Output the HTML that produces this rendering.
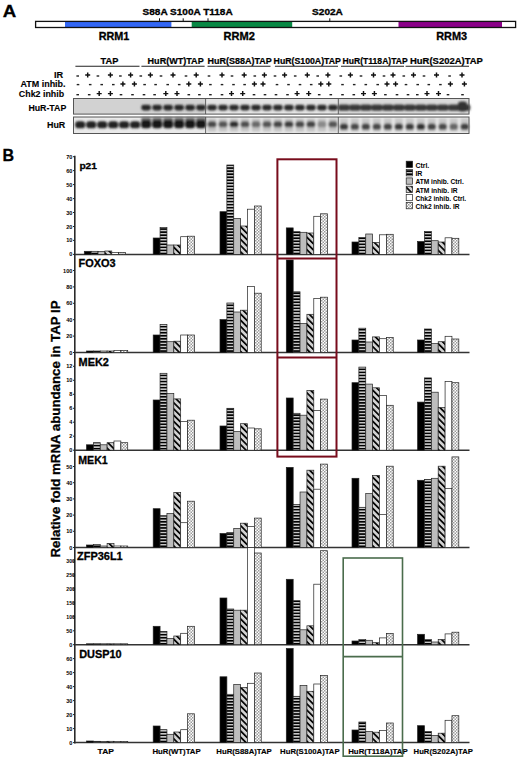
<!DOCTYPE html><html><head><meta charset="utf-8"><style>html,body{margin:0;padding:0;background:#fff;}svg{display:block;font-family:"Liberation Sans", sans-serif;}</style></head><body>
<svg width="520" height="761" viewBox="0 0 520 761">
<defs>
<pattern id="hs" patternUnits="userSpaceOnUse" x="0" y="0.3" width="4" height="3.05"><rect width="4" height="3.05" fill="#000"/><rect y="0.9" width="4" height="1.25" fill="#f2f2f2"/></pattern>
<pattern id="dg" patternUnits="userSpaceOnUse" width="4.4" height="4.4" patternTransform="rotate(-45)"><rect width="4.4" height="4.4" fill="#d2d2d2"/><rect width="1.7" height="4.4" fill="#000"/></pattern>
<pattern id="dt" patternUnits="userSpaceOnUse" width="3" height="3"><rect width="3" height="3" fill="#fff"/><rect width="1.5" height="1.5" fill="#9a9a9a"/><rect x="1.5" y="1.5" width="1.5" height="1.5" fill="#9a9a9a"/></pattern>
<filter id="bl" x="-5%" y="-20%" width="110%" height="140%"><feGaussianBlur stdDeviation="0.8"/></filter>
</defs>
<rect width="520" height="761" fill="#fff"/>
<text x="2.7" y="16.8" font-size="17.2" font-weight="bold" textLength="13.5" lengthAdjust="spacingAndGlyphs" stroke="#000" stroke-width="0.3" >A</text>
<rect x="35.6" y="21.4" width="480" height="6.1" fill="#fff"/>
<rect x="65" y="21.4" width="106.4" height="6.1" fill="#3266f4"/>
<rect x="191.7" y="21.4" width="100.5" height="6.1" fill="#088844"/>
<rect x="398.5" y="21.4" width="103.5" height="6.1" fill="#8a0088"/>
<rect x="35.6" y="21.4" width="480" height="6.1" fill="none" stroke="#111" stroke-width="1.3"/>
<line x1="159.5" y1="18.3" x2="159.5" y2="21.4" stroke="#111" stroke-width="1"/>
<line x1="183.2" y1="18.3" x2="183.2" y2="21.4" stroke="#111" stroke-width="1"/>
<line x1="208" y1="18.3" x2="208" y2="21.4" stroke="#111" stroke-width="1"/>
<line x1="329.8" y1="18.3" x2="329.8" y2="21.4" stroke="#111" stroke-width="1"/>
<text x="142.6" y="15.1" font-size="8.7" font-weight="bold" textLength="90.1" lengthAdjust="spacingAndGlyphs" stroke="#000" stroke-width="0.3" >S88A S100A T118A</text>
<text x="312.1" y="15.0" font-size="8.7" font-weight="bold" textLength="30.8" lengthAdjust="spacingAndGlyphs" stroke="#000" stroke-width="0.3" >S202A</text>
<text x="98.7" y="39.6" font-size="10.3" font-weight="bold" textLength="30.6" lengthAdjust="spacingAndGlyphs" stroke="#000" stroke-width="0.3" >RRM1</text>
<text x="223.6" y="39.6" font-size="10.3" font-weight="bold" textLength="31.3" lengthAdjust="spacingAndGlyphs" stroke="#000" stroke-width="0.3" >RRM2</text>
<text x="436.2" y="39.6" font-size="10.3" font-weight="bold" textLength="30.9" lengthAdjust="spacingAndGlyphs" stroke="#000" stroke-width="0.3" >RRM3</text>
<text x="100.6" y="64.2" font-size="8.4" font-weight="bold" textLength="17.8" lengthAdjust="spacingAndGlyphs" stroke="#000" stroke-width="0.2" >TAP</text>
<text x="147.6" y="64.2" font-size="8.4" font-weight="bold" textLength="56.1" lengthAdjust="spacingAndGlyphs" stroke="#000" stroke-width="0.2" >HuR(WT)TAP</text>
<text x="207.6" y="64.2" font-size="8.4" font-weight="bold" textLength="64.2" lengthAdjust="spacingAndGlyphs" stroke="#000" stroke-width="0.2" >HuR(S88A)TAP</text>
<text x="273.6" y="64.2" font-size="8.4" font-weight="bold" textLength="67.3" lengthAdjust="spacingAndGlyphs" stroke="#000" stroke-width="0.2" >HuR(S100A)TAP</text>
<text x="342.6" y="64.2" font-size="8.4" font-weight="bold" textLength="65.1" lengthAdjust="spacingAndGlyphs" stroke="#000" stroke-width="0.2" >HuR(T118A)TAP</text>
<text x="410.0" y="64.2" font-size="8.4" font-weight="bold" textLength="72.9" lengthAdjust="spacingAndGlyphs" stroke="#000" stroke-width="0.2" >HuR(S202A)TAP</text>
<line x1="75.4" y1="66.2" x2="139.5" y2="66.2" stroke="#222" stroke-width="1.1"/>
<line x1="141.4" y1="66.2" x2="204.6" y2="66.2" stroke="#222" stroke-width="1.1"/>
<line x1="207.5" y1="66.2" x2="270.5" y2="66.2" stroke="#222" stroke-width="1.1"/>
<line x1="274.9" y1="66.2" x2="338" y2="66.2" stroke="#222" stroke-width="1.1"/>
<line x1="341" y1="66.2" x2="404" y2="66.2" stroke="#222" stroke-width="1.1"/>
<line x1="405.6" y1="66.2" x2="469" y2="66.2" stroke="#222" stroke-width="1.1"/>
<text x="54.0" y="78.4" font-size="8.6" font-weight="bold" textLength="9.2" lengthAdjust="spacingAndGlyphs" stroke="#000" stroke-width="0.1" >IR</text>
<text x="20.4" y="87.3" font-size="8.6" font-weight="bold" textLength="45.2" lengthAdjust="spacingAndGlyphs" stroke="#000" stroke-width="0.1" >ATM inhib.</text>
<text x="18.8" y="97.2" font-size="8.6" font-weight="bold" textLength="45.4" lengthAdjust="spacingAndGlyphs" stroke="#000" stroke-width="0.1" >Chk2 inhib</text>
<text x="28.4" y="111.1" font-size="8.6" font-weight="bold" textLength="37.9" lengthAdjust="spacingAndGlyphs" stroke="#000" stroke-width="0.1" >HuR-TAP</text>
<text x="47.0" y="127.9" font-size="8.6" font-weight="bold" textLength="18.3" lengthAdjust="spacingAndGlyphs" stroke="#000" stroke-width="0.1" >HuR</text>
<path d="M76.4 76.0h2.6" stroke="#222" stroke-width="1.4"/>
<path d="M85.2 75.0h5M87.7 72.5v5" stroke="#111" stroke-width="1.45"/>
<path d="M96.6 76.0h2.6" stroke="#222" stroke-width="1.4"/>
<path d="M107.9 75.0h5M110.4 72.5v5" stroke="#111" stroke-width="1.45"/>
<path d="M119.1 76.0h2.6" stroke="#222" stroke-width="1.4"/>
<path d="M128.1 75.0h5M130.6 72.5v5" stroke="#111" stroke-width="1.45"/>
<path d="M139.5 76.0h2.6" stroke="#222" stroke-width="1.4"/>
<path d="M147.9 75.0h5M150.4 72.5v5" stroke="#111" stroke-width="1.45"/>
<path d="M159.7 76.0h2.6" stroke="#222" stroke-width="1.4"/>
<path d="M170.5 75.0h5M173.0 72.5v5" stroke="#111" stroke-width="1.45"/>
<path d="M184.7 76.0h2.6" stroke="#222" stroke-width="1.4"/>
<path d="M193.7 75.0h5M196.2 72.5v5" stroke="#111" stroke-width="1.45"/>
<path d="M207.7 76.0h2.6" stroke="#222" stroke-width="1.4"/>
<path d="M219.5 75.0h5M222.0 72.5v5" stroke="#111" stroke-width="1.45"/>
<path d="M230.7 76.0h2.6" stroke="#222" stroke-width="1.4"/>
<path d="M241.7 75.0h5M244.2 72.5v5" stroke="#111" stroke-width="1.45"/>
<path d="M253.5 76.0h2.6" stroke="#222" stroke-width="1.4"/>
<path d="M261.9 75.0h5M264.4 72.5v5" stroke="#111" stroke-width="1.45"/>
<path d="M273.7 76.0h2.6" stroke="#222" stroke-width="1.4"/>
<path d="M282.1 75.0h5M284.6 72.5v5" stroke="#111" stroke-width="1.45"/>
<path d="M293.9 76.0h2.6" stroke="#222" stroke-width="1.4"/>
<path d="M304.8 75.0h5M307.3 72.5v5" stroke="#111" stroke-width="1.45"/>
<path d="M316.4 76.0h2.6" stroke="#222" stroke-width="1.4"/>
<path d="M325.4 75.0h5M327.9 72.5v5" stroke="#111" stroke-width="1.45"/>
<path d="M339.5 76.0h2.6" stroke="#222" stroke-width="1.4"/>
<path d="M347.9 75.0h5M350.4 72.5v5" stroke="#111" stroke-width="1.45"/>
<path d="M359.7 76.0h2.6" stroke="#222" stroke-width="1.4"/>
<path d="M371.0 75.0h5M373.5 72.5v5" stroke="#111" stroke-width="1.45"/>
<path d="M382.7 76.0h2.6" stroke="#222" stroke-width="1.4"/>
<path d="M390.5 75.0h5M393.0 72.5v5" stroke="#111" stroke-width="1.45"/>
<path d="M402.5 76.0h2.6" stroke="#222" stroke-width="1.4"/>
<path d="M411.0 75.0h5M413.5 72.5v5" stroke="#111" stroke-width="1.45"/>
<path d="M422.7 76.0h2.6" stroke="#222" stroke-width="1.4"/>
<path d="M434.0 75.0h5M436.5 72.5v5" stroke="#111" stroke-width="1.45"/>
<path d="M448.3 76.0h2.6" stroke="#222" stroke-width="1.4"/>
<path d="M459.5 75.0h5M462.0 72.5v5" stroke="#111" stroke-width="1.45"/>
<path d="M76.7 84.6h2.6" stroke="#222" stroke-width="1.4"/>
<path d="M88.9 84.6h2.6" stroke="#222" stroke-width="1.4"/>
<path d="M100.4 84.6h2.6" stroke="#222" stroke-width="1.4"/>
<path d="M112.0 84.6h2.6" stroke="#222" stroke-width="1.4"/>
<path d="M120.4 83.9h5M122.9 81.4v5" stroke="#111" stroke-width="1.45"/>
<path d="M131.9 83.9h5M134.4 81.4v5" stroke="#111" stroke-width="1.45"/>
<path d="M143.3 84.6h2.6" stroke="#222" stroke-width="1.4"/>
<path d="M154.3 84.6h2.6" stroke="#222" stroke-width="1.4"/>
<path d="M166.4 84.6h2.6" stroke="#222" stroke-width="1.4"/>
<path d="M177.9 84.6h2.6" stroke="#222" stroke-width="1.4"/>
<path d="M186.3 83.9h5M188.8 81.4v5" stroke="#111" stroke-width="1.45"/>
<path d="M197.9 83.9h5M200.4 81.4v5" stroke="#111" stroke-width="1.45"/>
<path d="M209.1 84.6h2.6" stroke="#222" stroke-width="1.4"/>
<path d="M220.7 84.6h2.6" stroke="#222" stroke-width="1.4"/>
<path d="M232.2 84.6h2.6" stroke="#222" stroke-width="1.4"/>
<path d="M243.3 84.6h2.6" stroke="#222" stroke-width="1.4"/>
<path d="M251.9 83.9h5M254.4 81.4v5" stroke="#111" stroke-width="1.45"/>
<path d="M260.5 83.9h5M263.0 81.4v5" stroke="#111" stroke-width="1.45"/>
<path d="M275.7 84.6h2.6" stroke="#222" stroke-width="1.4"/>
<path d="M287.2 84.6h2.6" stroke="#222" stroke-width="1.4"/>
<path d="M298.7 84.6h2.6" stroke="#222" stroke-width="1.4"/>
<path d="M309.9 84.6h2.6" stroke="#222" stroke-width="1.4"/>
<path d="M318.3 83.9h5M320.8 81.4v5" stroke="#111" stroke-width="1.45"/>
<path d="M326.3 83.9h5M328.8 81.4v5" stroke="#111" stroke-width="1.45"/>
<path d="M341.2 84.6h2.6" stroke="#222" stroke-width="1.4"/>
<path d="M352.9 84.6h2.6" stroke="#222" stroke-width="1.4"/>
<path d="M364.5 84.6h2.6" stroke="#222" stroke-width="1.4"/>
<path d="M376.4 84.6h2.6" stroke="#222" stroke-width="1.4"/>
<path d="M384.5 83.9h5M387.0 81.4v5" stroke="#111" stroke-width="1.45"/>
<path d="M393.1 83.9h5M395.6 81.4v5" stroke="#111" stroke-width="1.45"/>
<path d="M404.7 84.6h2.6" stroke="#222" stroke-width="1.4"/>
<path d="M416.4 84.6h2.6" stroke="#222" stroke-width="1.4"/>
<path d="M427.5 84.6h2.6" stroke="#222" stroke-width="1.4"/>
<path d="M439.1 84.6h2.6" stroke="#222" stroke-width="1.4"/>
<path d="M447.9 83.9h5M450.4 81.4v5" stroke="#111" stroke-width="1.45"/>
<path d="M461.9 83.9h5M464.4 81.4v5" stroke="#111" stroke-width="1.45"/>
<path d="M76.4 94.7h2.6" stroke="#222" stroke-width="1.4"/>
<path d="M87.9 94.7h2.6" stroke="#222" stroke-width="1.4"/>
<path d="M96.7 93.6h5M99.2 91.1v5" stroke="#111" stroke-width="1.45"/>
<path d="M107.9 93.6h5M110.4 91.1v5" stroke="#111" stroke-width="1.45"/>
<path d="M119.7 94.7h2.6" stroke="#222" stroke-width="1.4"/>
<path d="M131.2 94.7h2.6" stroke="#222" stroke-width="1.4"/>
<path d="M142.7 94.7h2.6" stroke="#222" stroke-width="1.4"/>
<path d="M153.3 94.7h2.6" stroke="#222" stroke-width="1.4"/>
<path d="M163.3 93.6h5M165.8 91.1v5" stroke="#111" stroke-width="1.45"/>
<path d="M174.5 93.6h5M177.0 91.1v5" stroke="#111" stroke-width="1.45"/>
<path d="M187.5 94.7h2.6" stroke="#222" stroke-width="1.4"/>
<path d="M198.1 94.7h2.6" stroke="#222" stroke-width="1.4"/>
<path d="M209.1 94.7h2.6" stroke="#222" stroke-width="1.4"/>
<path d="M220.7 94.7h2.6" stroke="#222" stroke-width="1.4"/>
<path d="M229.0 93.6h5M231.5 91.1v5" stroke="#111" stroke-width="1.45"/>
<path d="M240.2 93.6h5M242.7 91.1v5" stroke="#111" stroke-width="1.45"/>
<path d="M252.7 94.7h2.6" stroke="#222" stroke-width="1.4"/>
<path d="M263.7 94.7h2.6" stroke="#222" stroke-width="1.4"/>
<path d="M274.7 94.7h2.6" stroke="#222" stroke-width="1.4"/>
<path d="M286.2 94.7h2.6" stroke="#222" stroke-width="1.4"/>
<path d="M294.6 93.6h5M297.1 91.1v5" stroke="#111" stroke-width="1.45"/>
<path d="M306.2 93.6h5M308.7 91.1v5" stroke="#111" stroke-width="1.45"/>
<path d="M317.9 94.7h2.6" stroke="#222" stroke-width="1.4"/>
<path d="M329.5 94.7h2.6" stroke="#222" stroke-width="1.4"/>
<path d="M341.2 94.7h2.6" stroke="#222" stroke-width="1.4"/>
<path d="M352.5 94.7h2.6" stroke="#222" stroke-width="1.4"/>
<path d="M361.0 93.6h5M363.5 91.1v5" stroke="#111" stroke-width="1.45"/>
<path d="M371.9 93.6h5M374.4 91.1v5" stroke="#111" stroke-width="1.45"/>
<path d="M384.1 94.7h2.6" stroke="#222" stroke-width="1.4"/>
<path d="M395.7 94.7h2.6" stroke="#222" stroke-width="1.4"/>
<path d="M406.7 94.7h2.6" stroke="#222" stroke-width="1.4"/>
<path d="M416.0 94.7h2.6" stroke="#222" stroke-width="1.4"/>
<path d="M424.5 93.6h5M427.0 91.1v5" stroke="#111" stroke-width="1.45"/>
<path d="M436.0 93.6h5M438.5 91.1v5" stroke="#111" stroke-width="1.45"/>
<path d="M446.7 94.7h2.6" stroke="#222" stroke-width="1.4"/>
<path d="M461.2 94.7h2.6" stroke="#222" stroke-width="1.4"/>
<rect x="73.5" y="98.5" width="395.5" height="15.6" fill="#d2d2d2"/>
<rect x="206" y="98.5" width="132.3" height="15.6" fill="#e3e3e3"/>
<rect x="338.3" y="98.5" width="130.7" height="15.6" fill="#dadada"/>
<rect x="73.5" y="117" width="395.5" height="16.5" fill="#e9e9e9"/>
<g filter="url(#bl)">
<rect x="141.3" y="104.8" width="9.6" height="5.6" rx="2.4" fill="#262626"/>
<rect x="152.3" y="104.8" width="9.6" height="5.6" rx="2.4" fill="#262626"/>
<rect x="163.3" y="104.8" width="9.6" height="5.6" rx="2.4" fill="#262626"/>
<rect x="174.3" y="104.8" width="9.6" height="5.6" rx="2.4" fill="#262626"/>
<rect x="185.3" y="104.8" width="9.6" height="5.6" rx="2.4" fill="#262626"/>
<rect x="196.2" y="104.8" width="9.6" height="5.6" rx="2.4" fill="#262626"/>
<rect x="207.2" y="104.8" width="9.6" height="5.6" rx="2.4" fill="#2a2a2a"/>
<rect x="218.2" y="104.8" width="9.6" height="5.6" rx="2.4" fill="#2a2a2a"/>
<rect x="229.2" y="104.8" width="9.6" height="5.6" rx="2.4" fill="#2a2a2a"/>
<rect x="240.2" y="104.8" width="9.6" height="5.6" rx="2.4" fill="#2a2a2a"/>
<rect x="251.2" y="104.8" width="9.6" height="5.6" rx="2.4" fill="#2a2a2a"/>
<rect x="262.2" y="104.8" width="9.6" height="5.6" rx="2.4" fill="#2a2a2a"/>
<rect x="273.1" y="104.8" width="9.6" height="5.6" rx="2.4" fill="#2a2a2a"/>
<rect x="284.1" y="104.8" width="9.6" height="5.6" rx="2.4" fill="#2a2a2a"/>
<rect x="295.1" y="104.8" width="9.6" height="5.6" rx="2.4" fill="#2a2a2a"/>
<rect x="306.1" y="104.8" width="9.6" height="5.6" rx="2.4" fill="#2a2a2a"/>
<rect x="317.1" y="104.8" width="9.6" height="5.6" rx="2.4" fill="#2a2a2a"/>
<rect x="328.1" y="104.8" width="9.6" height="5.6" rx="2.4" fill="#2a2a2a"/>
<rect x="338.3" y="104.4" width="11.2" height="6.4" rx="2" fill="#383838"/>
<rect x="349.2" y="104.4" width="11.2" height="6.4" rx="2" fill="#383838"/>
<rect x="360.2" y="104.4" width="11.2" height="6.4" rx="2" fill="#383838"/>
<rect x="371.2" y="104.4" width="11.2" height="6.4" rx="2" fill="#383838"/>
<rect x="382.2" y="104.4" width="11.2" height="6.4" rx="2" fill="#383838"/>
<rect x="393.2" y="104.4" width="11.2" height="6.4" rx="2" fill="#383838"/>
<rect x="404.2" y="104.4" width="11.2" height="6.4" rx="2" fill="#383838"/>
<rect x="415.2" y="104.4" width="11.2" height="6.4" rx="2" fill="#383838"/>
<rect x="426.1" y="104.4" width="11.2" height="6.4" rx="2" fill="#383838"/>
<rect x="437.1" y="104.4" width="11.2" height="6.4" rx="2" fill="#383838"/>
<rect x="448.1" y="104.4" width="11.2" height="6.4" rx="2" fill="#383838"/>
<rect x="459.1" y="104.4" width="11.2" height="6.4" rx="2" fill="#383838"/>
<rect x="458" y="101.5" width="9" height="10" rx="3" fill="#333"/>
<rect x="75.2" y="121.3" width="10.0" height="6.9" rx="3" fill="#202020"/>
<rect x="86.2" y="121.3" width="10.0" height="6.9" rx="3" fill="#202020"/>
<rect x="97.2" y="121.3" width="10.0" height="6.9" rx="3" fill="#202020"/>
<rect x="108.2" y="121.3" width="10.0" height="6.9" rx="3" fill="#202020"/>
<rect x="119.1" y="121.3" width="10.0" height="6.9" rx="3" fill="#202020"/>
<rect x="130.1" y="121.3" width="10.0" height="6.9" rx="3" fill="#202020"/>
<rect x="141.1" y="117.6" width="10.0" height="4" rx="1.5" fill="#6a6a6a"/>
<rect x="141.1" y="120.0" width="10.0" height="8.2" rx="3" fill="#151515"/>
<rect x="152.1" y="117.6" width="10.0" height="4" rx="1.5" fill="#6a6a6a"/>
<rect x="152.1" y="120.0" width="10.0" height="8.2" rx="3" fill="#151515"/>
<rect x="163.1" y="117.6" width="10.0" height="4" rx="1.5" fill="#6a6a6a"/>
<rect x="163.1" y="120.0" width="10.0" height="8.2" rx="3" fill="#151515"/>
<rect x="174.1" y="117.6" width="10.0" height="4" rx="1.5" fill="#6a6a6a"/>
<rect x="174.1" y="120.0" width="10.0" height="8.2" rx="3" fill="#151515"/>
<rect x="185.1" y="117.6" width="10.0" height="4" rx="1.5" fill="#6a6a6a"/>
<rect x="185.1" y="120.0" width="10.0" height="8.2" rx="3" fill="#151515"/>
<rect x="196.0" y="117.6" width="10.0" height="4" rx="1.5" fill="#6a6a6a"/>
<rect x="196.0" y="120.0" width="10.0" height="8.2" rx="3" fill="#151515"/>
<rect x="207.7" y="118.5" width="8.6" height="13" fill="#c4c4c4"/>
<rect x="207.7" y="121.3" width="8.6" height="6.0" rx="2.6" fill="#4a4a4a"/>
<rect x="218.7" y="118.5" width="8.6" height="13" fill="#c4c4c4"/>
<rect x="218.7" y="121.3" width="8.6" height="6.0" rx="2.6" fill="#555"/>
<rect x="229.7" y="118.5" width="8.6" height="13" fill="#c4c4c4"/>
<rect x="229.7" y="121.3" width="8.6" height="6.0" rx="2.6" fill="#2e2e2e"/>
<rect x="240.7" y="118.5" width="8.6" height="13" fill="#c4c4c4"/>
<rect x="240.7" y="121.3" width="8.6" height="6.0" rx="2.6" fill="#505050"/>
<rect x="251.7" y="118.5" width="8.6" height="13" fill="#c4c4c4"/>
<rect x="251.7" y="121.3" width="8.6" height="6.0" rx="2.6" fill="#6a6a6a"/>
<rect x="262.7" y="118.5" width="8.6" height="13" fill="#c4c4c4"/>
<rect x="262.7" y="121.3" width="8.6" height="6.0" rx="2.6" fill="#555"/>
<rect x="273.6" y="118.5" width="8.6" height="13" fill="#c4c4c4"/>
<rect x="273.6" y="121.3" width="8.6" height="6.0" rx="2.6" fill="#474747"/>
<rect x="284.6" y="118.5" width="8.6" height="13" fill="#c4c4c4"/>
<rect x="284.6" y="121.3" width="8.6" height="6.0" rx="2.6" fill="#3e3e3e"/>
<rect x="295.6" y="118.5" width="8.6" height="13" fill="#c4c4c4"/>
<rect x="295.6" y="121.3" width="8.6" height="6.0" rx="2.6" fill="#4a4a4a"/>
<rect x="306.6" y="118.5" width="8.6" height="13" fill="#c4c4c4"/>
<rect x="306.6" y="121.3" width="8.6" height="6.0" rx="2.6" fill="#444"/>
<rect x="317.6" y="118.5" width="8.6" height="13" fill="#c4c4c4"/>
<rect x="317.6" y="121.3" width="8.6" height="6.0" rx="2.6" fill="#8a8a8a"/>
<rect x="328.6" y="118.5" width="8.6" height="13" fill="#c4c4c4"/>
<rect x="328.6" y="121.3" width="8.6" height="6.0" rx="2.6" fill="#555"/>
<rect x="339.9" y="118.5" width="8.0" height="13" fill="#c8c8c8"/>
<rect x="339.9" y="123.4" width="8.0" height="6.4" rx="2.6" fill="#3a3a3a"/>
<rect x="350.8" y="118.5" width="8.0" height="13" fill="#c8c8c8"/>
<rect x="350.8" y="123.4" width="8.0" height="6.4" rx="2.6" fill="#4a4a4a"/>
<rect x="361.8" y="118.5" width="8.0" height="13" fill="#c8c8c8"/>
<rect x="361.8" y="123.4" width="8.0" height="6.4" rx="2.6" fill="#444"/>
<rect x="372.8" y="118.5" width="8.0" height="13" fill="#c8c8c8"/>
<rect x="372.8" y="123.4" width="8.0" height="6.4" rx="2.6" fill="#4a4a4a"/>
<rect x="383.8" y="118.5" width="8.0" height="13" fill="#c8c8c8"/>
<rect x="383.8" y="123.4" width="8.0" height="6.4" rx="2.6" fill="#444"/>
<rect x="394.8" y="118.5" width="8.0" height="13" fill="#c8c8c8"/>
<rect x="394.8" y="123.4" width="8.0" height="6.4" rx="2.6" fill="#3a3a3a"/>
<rect x="405.8" y="118.5" width="8.0" height="13" fill="#c8c8c8"/>
<rect x="405.8" y="123.4" width="8.0" height="6.4" rx="2.6" fill="#3a3a3a"/>
<rect x="416.8" y="118.5" width="8.0" height="13" fill="#c8c8c8"/>
<rect x="416.8" y="123.4" width="8.0" height="6.4" rx="2.6" fill="#333"/>
<rect x="427.7" y="118.5" width="8.0" height="13" fill="#c8c8c8"/>
<rect x="427.7" y="123.4" width="8.0" height="6.4" rx="2.6" fill="#444"/>
<rect x="438.7" y="118.5" width="8.0" height="13" fill="#c8c8c8"/>
<rect x="438.7" y="123.4" width="8.0" height="6.4" rx="2.6" fill="#4a4a4a"/>
<rect x="449.7" y="118.5" width="8.0" height="13" fill="#c8c8c8"/>
<rect x="449.7" y="123.4" width="8.0" height="6.4" rx="2.6" fill="#666"/>
<rect x="460.7" y="118.5" width="8.0" height="13" fill="#c8c8c8"/>
<rect x="460.7" y="123.4" width="8.0" height="6.4" rx="2.6" fill="#404040"/>
</g>
<rect x="73.5" y="98.5" width="395.5" height="15.6" fill="none" stroke="#555" stroke-width="1"/>
<rect x="73.5" y="117" width="395.5" height="16.5" fill="none" stroke="#555" stroke-width="1"/>
<line x1="205.6" y1="98.5" x2="205.6" y2="114.1" stroke="#555" stroke-width="0.9"/>
<line x1="205.6" y1="117" x2="205.6" y2="133.5" stroke="#555" stroke-width="0.9"/>
<line x1="338.3" y1="98.5" x2="338.3" y2="114.1" stroke="#555" stroke-width="0.9"/>
<line x1="338.3" y1="117" x2="338.3" y2="133.5" stroke="#555" stroke-width="0.9"/>
<text x="2.5" y="161.4" font-size="17.2" font-weight="bold" textLength="11.6" lengthAdjust="spacingAndGlyphs" stroke="#000" stroke-width="0.3" >B</text>
<line x1="74.8" y1="155.8" x2="74.8" y2="743.5" stroke="#2a2a2a" stroke-width="1.6"/>
<line x1="74.8" y1="254.4" x2="469.5" y2="254.4" stroke="#333" stroke-width="1.5"/>
<line x1="73.0" y1="254.4" x2="74.8" y2="254.4" stroke="#222" stroke-width="1"/>
<text x="72.4" y="256.4" font-size="5.6" text-anchor="end" font-weight="bold" >0</text>
<line x1="73.0" y1="240.4" x2="74.8" y2="240.4" stroke="#222" stroke-width="1"/>
<text x="72.4" y="242.4" font-size="5.6" text-anchor="end" font-weight="bold" >10</text>
<line x1="73.0" y1="226.5" x2="74.8" y2="226.5" stroke="#222" stroke-width="1"/>
<text x="72.4" y="228.5" font-size="5.6" text-anchor="end" font-weight="bold" >20</text>
<line x1="73.0" y1="212.5" x2="74.8" y2="212.5" stroke="#222" stroke-width="1"/>
<text x="72.4" y="214.5" font-size="5.6" text-anchor="end" font-weight="bold" >30</text>
<line x1="73.0" y1="198.6" x2="74.8" y2="198.6" stroke="#222" stroke-width="1"/>
<text x="72.4" y="200.6" font-size="5.6" text-anchor="end" font-weight="bold" >40</text>
<line x1="73.0" y1="184.6" x2="74.8" y2="184.6" stroke="#222" stroke-width="1"/>
<text x="72.4" y="186.6" font-size="5.6" text-anchor="end" font-weight="bold" >50</text>
<line x1="73.0" y1="170.6" x2="74.8" y2="170.6" stroke="#222" stroke-width="1"/>
<text x="72.4" y="172.6" font-size="5.6" text-anchor="end" font-weight="bold" >60</text>
<line x1="73.0" y1="156.7" x2="74.8" y2="156.7" stroke="#222" stroke-width="1"/>
<text x="72.4" y="158.7" font-size="5.6" text-anchor="end" font-weight="bold" >70</text>
<text x="79.4" y="168.9" font-size="9.6" font-weight="bold" textLength="17.6" lengthAdjust="spacingAndGlyphs" stroke="#000" stroke-width="0.3" >p21</text>
<rect x="84.30" y="251.3" width="6.87" height="3.1" fill="#000" stroke="#222" stroke-width="0.7"/>
<rect x="91.17" y="251.3" width="6.87" height="3.1" fill="url(#hs)" stroke="#222" stroke-width="0.7"/>
<rect x="98.04" y="251.5" width="6.87" height="2.9" fill="#bdbdbd" stroke="#222" stroke-width="0.7"/>
<rect x="104.91" y="251.0" width="6.87" height="3.4" fill="url(#dg)" stroke="#222" stroke-width="0.7"/>
<rect x="111.78" y="252.5" width="6.87" height="1.9" fill="#fff" stroke="#222" stroke-width="0.7"/>
<rect x="118.65" y="252.5" width="6.87" height="1.9" fill="url(#dt)" stroke="#222" stroke-width="0.7"/>
<rect x="153.20" y="238.0" width="6.87" height="16.4" fill="#000" stroke="#222" stroke-width="0.7"/>
<rect x="160.07" y="227.5" width="6.87" height="26.9" fill="url(#hs)" stroke="#222" stroke-width="0.7"/>
<rect x="166.94" y="245.0" width="6.87" height="9.4" fill="#bdbdbd" stroke="#222" stroke-width="0.7"/>
<rect x="173.81" y="245.0" width="6.87" height="9.4" fill="url(#dg)" stroke="#222" stroke-width="0.7"/>
<rect x="180.68" y="236.7" width="6.87" height="17.7" fill="#fff" stroke="#222" stroke-width="0.7"/>
<rect x="187.55" y="236.2" width="6.87" height="18.2" fill="url(#dt)" stroke="#222" stroke-width="0.7"/>
<rect x="220.00" y="211.7" width="6.87" height="42.7" fill="#000" stroke="#222" stroke-width="0.7"/>
<rect x="226.87" y="165.0" width="6.87" height="89.4" fill="url(#hs)" stroke="#222" stroke-width="0.7"/>
<rect x="233.74" y="218.4" width="6.87" height="36.0" fill="#bdbdbd" stroke="#222" stroke-width="0.7"/>
<rect x="240.61" y="226.0" width="6.87" height="28.4" fill="url(#dg)" stroke="#222" stroke-width="0.7"/>
<rect x="247.48" y="209.2" width="6.87" height="45.2" fill="#fff" stroke="#222" stroke-width="0.7"/>
<rect x="254.35" y="206.0" width="6.87" height="48.4" fill="url(#dt)" stroke="#222" stroke-width="0.7"/>
<rect x="286.30" y="227.9" width="6.87" height="26.5" fill="#000" stroke="#222" stroke-width="0.7"/>
<rect x="293.17" y="231.7" width="6.87" height="22.7" fill="url(#hs)" stroke="#222" stroke-width="0.7"/>
<rect x="300.04" y="232.3" width="6.87" height="22.1" fill="#bdbdbd" stroke="#222" stroke-width="0.7"/>
<rect x="306.91" y="233.0" width="6.87" height="21.4" fill="url(#dg)" stroke="#222" stroke-width="0.7"/>
<rect x="313.78" y="216.3" width="6.87" height="38.1" fill="#fff" stroke="#222" stroke-width="0.7"/>
<rect x="320.65" y="213.8" width="6.87" height="40.6" fill="url(#dt)" stroke="#222" stroke-width="0.7"/>
<rect x="352.00" y="242.0" width="6.87" height="12.4" fill="#000" stroke="#222" stroke-width="0.7"/>
<rect x="358.87" y="237.5" width="6.87" height="16.9" fill="url(#hs)" stroke="#222" stroke-width="0.7"/>
<rect x="365.74" y="234.0" width="6.87" height="20.4" fill="#bdbdbd" stroke="#222" stroke-width="0.7"/>
<rect x="372.61" y="242.4" width="6.87" height="12.0" fill="url(#dg)" stroke="#222" stroke-width="0.7"/>
<rect x="379.48" y="234.8" width="6.87" height="19.6" fill="#fff" stroke="#222" stroke-width="0.7"/>
<rect x="386.35" y="234.3" width="6.87" height="20.1" fill="url(#dt)" stroke="#222" stroke-width="0.7"/>
<rect x="417.60" y="241.5" width="6.87" height="12.9" fill="#000" stroke="#222" stroke-width="0.7"/>
<rect x="424.47" y="231.6" width="6.87" height="22.8" fill="url(#hs)" stroke="#222" stroke-width="0.7"/>
<rect x="431.34" y="240.7" width="6.87" height="13.7" fill="#bdbdbd" stroke="#222" stroke-width="0.7"/>
<rect x="438.21" y="242.0" width="6.87" height="12.4" fill="url(#dg)" stroke="#222" stroke-width="0.7"/>
<rect x="445.08" y="237.8" width="6.87" height="16.6" fill="#fff" stroke="#222" stroke-width="0.7"/>
<rect x="451.95" y="238.3" width="6.87" height="16.1" fill="url(#dt)" stroke="#222" stroke-width="0.7"/>
<line x1="74.8" y1="352.5" x2="469.5" y2="352.5" stroke="#333" stroke-width="1.5"/>
<line x1="73.0" y1="352.5" x2="74.8" y2="352.5" stroke="#222" stroke-width="1"/>
<text x="72.4" y="354.5" font-size="5.6" text-anchor="end" font-weight="bold" >0</text>
<line x1="73.0" y1="336.1" x2="74.8" y2="336.1" stroke="#222" stroke-width="1"/>
<text x="72.4" y="338.1" font-size="5.6" text-anchor="end" font-weight="bold" >20</text>
<line x1="73.0" y1="319.7" x2="74.8" y2="319.7" stroke="#222" stroke-width="1"/>
<text x="72.4" y="321.7" font-size="5.6" text-anchor="end" font-weight="bold" >40</text>
<line x1="73.0" y1="303.3" x2="74.8" y2="303.3" stroke="#222" stroke-width="1"/>
<text x="72.4" y="305.3" font-size="5.6" text-anchor="end" font-weight="bold" >60</text>
<line x1="73.0" y1="286.9" x2="74.8" y2="286.9" stroke="#222" stroke-width="1"/>
<text x="72.4" y="288.9" font-size="5.6" text-anchor="end" font-weight="bold" >80</text>
<line x1="73.0" y1="270.5" x2="74.8" y2="270.5" stroke="#222" stroke-width="1"/>
<text x="72.4" y="272.5" font-size="5.6" text-anchor="end" font-weight="bold" >100</text>
<text x="78.6" y="267.1" font-size="10.3" font-weight="bold" textLength="37.0" lengthAdjust="spacingAndGlyphs" stroke="#000" stroke-width="0.3" >FOXO3</text>
<rect x="86.50" y="351.0" width="6.87" height="1.5" fill="#000" stroke="#222" stroke-width="0.7"/>
<rect x="93.37" y="351.0" width="6.87" height="1.5" fill="url(#hs)" stroke="#222" stroke-width="0.7"/>
<rect x="100.24" y="351.0" width="6.87" height="1.5" fill="#bdbdbd" stroke="#222" stroke-width="0.7"/>
<rect x="107.11" y="351.0" width="6.87" height="1.5" fill="url(#dg)" stroke="#222" stroke-width="0.7"/>
<rect x="113.98" y="350.5" width="6.87" height="2.0" fill="#fff" stroke="#222" stroke-width="0.7"/>
<rect x="120.85" y="350.5" width="6.87" height="2.0" fill="url(#dt)" stroke="#222" stroke-width="0.7"/>
<rect x="153.20" y="335.0" width="6.87" height="17.5" fill="#000" stroke="#222" stroke-width="0.7"/>
<rect x="160.07" y="324.5" width="6.87" height="28.0" fill="url(#hs)" stroke="#222" stroke-width="0.7"/>
<rect x="166.94" y="341.7" width="6.87" height="10.8" fill="#bdbdbd" stroke="#222" stroke-width="0.7"/>
<rect x="173.81" y="341.2" width="6.87" height="11.3" fill="url(#dg)" stroke="#222" stroke-width="0.7"/>
<rect x="180.68" y="335.0" width="6.87" height="17.5" fill="#fff" stroke="#222" stroke-width="0.7"/>
<rect x="187.55" y="335.0" width="6.87" height="17.5" fill="url(#dt)" stroke="#222" stroke-width="0.7"/>
<rect x="220.00" y="319.6" width="6.87" height="32.9" fill="#000" stroke="#222" stroke-width="0.7"/>
<rect x="226.87" y="303.0" width="6.87" height="49.5" fill="url(#hs)" stroke="#222" stroke-width="0.7"/>
<rect x="233.74" y="312.0" width="6.87" height="40.5" fill="#bdbdbd" stroke="#222" stroke-width="0.7"/>
<rect x="240.61" y="310.2" width="6.87" height="42.3" fill="url(#dg)" stroke="#222" stroke-width="0.7"/>
<rect x="247.48" y="286.5" width="6.87" height="66.0" fill="#fff" stroke="#222" stroke-width="0.7"/>
<rect x="254.35" y="293.2" width="6.87" height="59.3" fill="url(#dt)" stroke="#222" stroke-width="0.7"/>
<rect x="286.30" y="260.0" width="6.87" height="92.5" fill="#000" stroke="#222" stroke-width="0.7"/>
<rect x="293.17" y="291.8" width="6.87" height="60.7" fill="url(#hs)" stroke="#222" stroke-width="0.7"/>
<rect x="300.04" y="323.4" width="6.87" height="29.1" fill="#bdbdbd" stroke="#222" stroke-width="0.7"/>
<rect x="306.91" y="314.3" width="6.87" height="38.2" fill="url(#dg)" stroke="#222" stroke-width="0.7"/>
<rect x="313.78" y="298.5" width="6.87" height="54.0" fill="#fff" stroke="#222" stroke-width="0.7"/>
<rect x="320.65" y="297.2" width="6.87" height="55.3" fill="url(#dt)" stroke="#222" stroke-width="0.7"/>
<rect x="352.00" y="340.0" width="6.87" height="12.5" fill="#000" stroke="#222" stroke-width="0.7"/>
<rect x="358.87" y="328.2" width="6.87" height="24.3" fill="url(#hs)" stroke="#222" stroke-width="0.7"/>
<rect x="365.74" y="342.0" width="6.87" height="10.5" fill="#bdbdbd" stroke="#222" stroke-width="0.7"/>
<rect x="372.61" y="336.9" width="6.87" height="15.6" fill="url(#dg)" stroke="#222" stroke-width="0.7"/>
<rect x="379.48" y="338.7" width="6.87" height="13.8" fill="#fff" stroke="#222" stroke-width="0.7"/>
<rect x="386.35" y="337.4" width="6.87" height="15.1" fill="url(#dt)" stroke="#222" stroke-width="0.7"/>
<rect x="417.60" y="340.0" width="6.87" height="12.5" fill="#000" stroke="#222" stroke-width="0.7"/>
<rect x="424.47" y="329.0" width="6.87" height="23.5" fill="url(#hs)" stroke="#222" stroke-width="0.7"/>
<rect x="431.34" y="343.6" width="6.87" height="8.9" fill="#bdbdbd" stroke="#222" stroke-width="0.7"/>
<rect x="438.21" y="341.7" width="6.87" height="10.8" fill="url(#dg)" stroke="#222" stroke-width="0.7"/>
<rect x="445.08" y="336.3" width="6.87" height="16.2" fill="#fff" stroke="#222" stroke-width="0.7"/>
<rect x="451.95" y="339.0" width="6.87" height="13.5" fill="url(#dt)" stroke="#222" stroke-width="0.7"/>
<line x1="74.8" y1="450.2" x2="469.5" y2="450.2" stroke="#333" stroke-width="1.5"/>
<line x1="73.0" y1="450.2" x2="74.8" y2="450.2" stroke="#222" stroke-width="1"/>
<text x="72.4" y="452.2" font-size="5.6" text-anchor="end" font-weight="bold" >0</text>
<line x1="73.0" y1="436.2" x2="74.8" y2="436.2" stroke="#222" stroke-width="1"/>
<text x="72.4" y="438.2" font-size="5.6" text-anchor="end" font-weight="bold" >2</text>
<line x1="73.0" y1="422.2" x2="74.8" y2="422.2" stroke="#222" stroke-width="1"/>
<text x="72.4" y="424.2" font-size="5.6" text-anchor="end" font-weight="bold" >4</text>
<line x1="73.0" y1="408.3" x2="74.8" y2="408.3" stroke="#222" stroke-width="1"/>
<text x="72.4" y="410.3" font-size="5.6" text-anchor="end" font-weight="bold" >6</text>
<line x1="73.0" y1="394.3" x2="74.8" y2="394.3" stroke="#222" stroke-width="1"/>
<text x="72.4" y="396.3" font-size="5.6" text-anchor="end" font-weight="bold" >8</text>
<line x1="73.0" y1="380.3" x2="74.8" y2="380.3" stroke="#222" stroke-width="1"/>
<text x="72.4" y="382.3" font-size="5.6" text-anchor="end" font-weight="bold" >10</text>
<line x1="73.0" y1="366.3" x2="74.8" y2="366.3" stroke="#222" stroke-width="1"/>
<text x="72.4" y="368.3" font-size="5.6" text-anchor="end" font-weight="bold" >12</text>
<text x="78.6" y="365.6" font-size="10.3" font-weight="bold" textLength="30.3" lengthAdjust="spacingAndGlyphs" stroke="#000" stroke-width="0.3" >MEK2</text>
<rect x="86.50" y="444.8" width="6.87" height="5.4" fill="#000" stroke="#222" stroke-width="0.7"/>
<rect x="93.37" y="442.7" width="6.87" height="7.5" fill="url(#hs)" stroke="#222" stroke-width="0.7"/>
<rect x="100.24" y="444.8" width="6.87" height="5.4" fill="#bdbdbd" stroke="#222" stroke-width="0.7"/>
<rect x="107.11" y="442.7" width="6.87" height="7.5" fill="url(#dg)" stroke="#222" stroke-width="0.7"/>
<rect x="113.98" y="441.0" width="6.87" height="9.2" fill="#fff" stroke="#222" stroke-width="0.7"/>
<rect x="120.85" y="442.7" width="6.87" height="7.5" fill="url(#dt)" stroke="#222" stroke-width="0.7"/>
<rect x="153.20" y="400.0" width="6.87" height="50.2" fill="#000" stroke="#222" stroke-width="0.7"/>
<rect x="160.07" y="373.3" width="6.87" height="76.9" fill="url(#hs)" stroke="#222" stroke-width="0.7"/>
<rect x="166.94" y="393.5" width="6.87" height="56.7" fill="#bdbdbd" stroke="#222" stroke-width="0.7"/>
<rect x="173.81" y="398.9" width="6.87" height="51.3" fill="url(#dg)" stroke="#222" stroke-width="0.7"/>
<rect x="180.68" y="421.5" width="6.87" height="28.7" fill="#fff" stroke="#222" stroke-width="0.7"/>
<rect x="187.55" y="420.2" width="6.87" height="30.0" fill="url(#dt)" stroke="#222" stroke-width="0.7"/>
<rect x="220.00" y="426.0" width="6.87" height="24.2" fill="#000" stroke="#222" stroke-width="0.7"/>
<rect x="226.87" y="408.3" width="6.87" height="41.9" fill="url(#hs)" stroke="#222" stroke-width="0.7"/>
<rect x="233.74" y="431.5" width="6.87" height="18.7" fill="#bdbdbd" stroke="#222" stroke-width="0.7"/>
<rect x="240.61" y="423.7" width="6.87" height="26.5" fill="url(#dg)" stroke="#222" stroke-width="0.7"/>
<rect x="247.48" y="428.0" width="6.87" height="22.2" fill="#fff" stroke="#222" stroke-width="0.7"/>
<rect x="254.35" y="428.8" width="6.87" height="21.4" fill="url(#dt)" stroke="#222" stroke-width="0.7"/>
<rect x="286.30" y="398.0" width="6.87" height="52.2" fill="#000" stroke="#222" stroke-width="0.7"/>
<rect x="293.17" y="413.3" width="6.87" height="36.9" fill="url(#hs)" stroke="#222" stroke-width="0.7"/>
<rect x="300.04" y="415.2" width="6.87" height="35.0" fill="#bdbdbd" stroke="#222" stroke-width="0.7"/>
<rect x="306.91" y="390.5" width="6.87" height="59.7" fill="url(#dg)" stroke="#222" stroke-width="0.7"/>
<rect x="313.78" y="410.5" width="6.87" height="39.7" fill="#fff" stroke="#222" stroke-width="0.7"/>
<rect x="320.65" y="399.1" width="6.87" height="51.1" fill="url(#dt)" stroke="#222" stroke-width="0.7"/>
<rect x="352.00" y="382.7" width="6.87" height="67.5" fill="#000" stroke="#222" stroke-width="0.7"/>
<rect x="358.87" y="367.1" width="6.87" height="83.1" fill="url(#hs)" stroke="#222" stroke-width="0.7"/>
<rect x="365.74" y="384.1" width="6.87" height="66.1" fill="#bdbdbd" stroke="#222" stroke-width="0.7"/>
<rect x="372.61" y="387.8" width="6.87" height="62.4" fill="url(#dg)" stroke="#222" stroke-width="0.7"/>
<rect x="379.48" y="395.4" width="6.87" height="54.8" fill="#fff" stroke="#222" stroke-width="0.7"/>
<rect x="386.35" y="405.3" width="6.87" height="44.9" fill="url(#dt)" stroke="#222" stroke-width="0.7"/>
<rect x="417.60" y="402.1" width="6.87" height="48.1" fill="#000" stroke="#222" stroke-width="0.7"/>
<rect x="424.47" y="377.9" width="6.87" height="72.3" fill="url(#hs)" stroke="#222" stroke-width="0.7"/>
<rect x="431.34" y="392.2" width="6.87" height="58.0" fill="#bdbdbd" stroke="#222" stroke-width="0.7"/>
<rect x="438.21" y="407.5" width="6.87" height="42.7" fill="url(#dg)" stroke="#222" stroke-width="0.7"/>
<rect x="445.08" y="381.4" width="6.87" height="68.8" fill="#fff" stroke="#222" stroke-width="0.7"/>
<rect x="451.95" y="382.7" width="6.87" height="67.5" fill="url(#dt)" stroke="#222" stroke-width="0.7"/>
<line x1="74.8" y1="547.5" x2="469.5" y2="547.5" stroke="#333" stroke-width="1.5"/>
<line x1="73.0" y1="547.5" x2="74.8" y2="547.5" stroke="#222" stroke-width="1"/>
<text x="72.4" y="549.5" font-size="5.6" text-anchor="end" font-weight="bold" >0</text>
<line x1="73.0" y1="531.3" x2="74.8" y2="531.3" stroke="#222" stroke-width="1"/>
<text x="72.4" y="533.3" font-size="5.6" text-anchor="end" font-weight="bold" >10</text>
<line x1="73.0" y1="515.1" x2="74.8" y2="515.1" stroke="#222" stroke-width="1"/>
<text x="72.4" y="517.1" font-size="5.6" text-anchor="end" font-weight="bold" >20</text>
<line x1="73.0" y1="498.9" x2="74.8" y2="498.9" stroke="#222" stroke-width="1"/>
<text x="72.4" y="500.9" font-size="5.6" text-anchor="end" font-weight="bold" >30</text>
<line x1="73.0" y1="482.7" x2="74.8" y2="482.7" stroke="#222" stroke-width="1"/>
<text x="72.4" y="484.7" font-size="5.6" text-anchor="end" font-weight="bold" >40</text>
<line x1="73.0" y1="466.5" x2="74.8" y2="466.5" stroke="#222" stroke-width="1"/>
<text x="72.4" y="468.5" font-size="5.6" text-anchor="end" font-weight="bold" >50</text>
<text x="78.3" y="463.8" font-size="10.3" font-weight="bold" textLength="29.4" lengthAdjust="spacingAndGlyphs" stroke="#000" stroke-width="0.3" >MEK1</text>
<rect x="86.50" y="545.0" width="6.87" height="2.5" fill="#000" stroke="#222" stroke-width="0.7"/>
<rect x="93.37" y="544.6" width="6.87" height="2.9" fill="url(#hs)" stroke="#222" stroke-width="0.7"/>
<rect x="100.24" y="546.0" width="6.87" height="1.5" fill="#bdbdbd" stroke="#222" stroke-width="0.7"/>
<rect x="107.11" y="543.5" width="6.87" height="4.0" fill="url(#dg)" stroke="#222" stroke-width="0.7"/>
<rect x="113.98" y="546.0" width="6.87" height="1.5" fill="#fff" stroke="#222" stroke-width="0.7"/>
<rect x="120.85" y="546.0" width="6.87" height="1.5" fill="url(#dt)" stroke="#222" stroke-width="0.7"/>
<rect x="153.20" y="508.7" width="6.87" height="38.8" fill="#000" stroke="#222" stroke-width="0.7"/>
<rect x="160.07" y="515.7" width="6.87" height="31.8" fill="url(#hs)" stroke="#222" stroke-width="0.7"/>
<rect x="166.94" y="513.5" width="6.87" height="34.0" fill="#bdbdbd" stroke="#222" stroke-width="0.7"/>
<rect x="173.81" y="492.5" width="6.87" height="55.0" fill="url(#dg)" stroke="#222" stroke-width="0.7"/>
<rect x="180.68" y="522.7" width="6.87" height="24.8" fill="#fff" stroke="#222" stroke-width="0.7"/>
<rect x="187.55" y="501.2" width="6.87" height="46.3" fill="url(#dt)" stroke="#222" stroke-width="0.7"/>
<rect x="220.00" y="533.5" width="6.87" height="14.0" fill="#000" stroke="#222" stroke-width="0.7"/>
<rect x="226.87" y="532.4" width="6.87" height="15.1" fill="url(#hs)" stroke="#222" stroke-width="0.7"/>
<rect x="233.74" y="528.4" width="6.87" height="19.1" fill="#bdbdbd" stroke="#222" stroke-width="0.7"/>
<rect x="240.61" y="523.2" width="6.87" height="24.3" fill="url(#dg)" stroke="#222" stroke-width="0.7"/>
<rect x="247.48" y="526.5" width="6.87" height="21.0" fill="#fff" stroke="#222" stroke-width="0.7"/>
<rect x="254.35" y="518.1" width="6.87" height="29.4" fill="url(#dt)" stroke="#222" stroke-width="0.7"/>
<rect x="286.30" y="467.4" width="6.87" height="80.1" fill="#000" stroke="#222" stroke-width="0.7"/>
<rect x="293.17" y="504.5" width="6.87" height="43.0" fill="url(#hs)" stroke="#222" stroke-width="0.7"/>
<rect x="300.04" y="492.0" width="6.87" height="55.5" fill="#bdbdbd" stroke="#222" stroke-width="0.7"/>
<rect x="306.91" y="470.2" width="6.87" height="77.3" fill="url(#dg)" stroke="#222" stroke-width="0.7"/>
<rect x="313.78" y="489.2" width="6.87" height="58.3" fill="#fff" stroke="#222" stroke-width="0.7"/>
<rect x="320.65" y="464.1" width="6.87" height="83.4" fill="url(#dt)" stroke="#222" stroke-width="0.7"/>
<rect x="352.00" y="478.3" width="6.87" height="69.2" fill="#000" stroke="#222" stroke-width="0.7"/>
<rect x="358.87" y="507.3" width="6.87" height="40.2" fill="url(#hs)" stroke="#222" stroke-width="0.7"/>
<rect x="365.74" y="493.6" width="6.87" height="53.9" fill="#bdbdbd" stroke="#222" stroke-width="0.7"/>
<rect x="372.61" y="475.4" width="6.87" height="72.1" fill="url(#dg)" stroke="#222" stroke-width="0.7"/>
<rect x="379.48" y="514.6" width="6.87" height="32.9" fill="#fff" stroke="#222" stroke-width="0.7"/>
<rect x="386.35" y="466.2" width="6.87" height="81.3" fill="url(#dt)" stroke="#222" stroke-width="0.7"/>
<rect x="417.60" y="480.3" width="6.87" height="67.2" fill="#000" stroke="#222" stroke-width="0.7"/>
<rect x="424.47" y="479.5" width="6.87" height="68.0" fill="url(#hs)" stroke="#222" stroke-width="0.7"/>
<rect x="431.34" y="478.3" width="6.87" height="69.2" fill="#bdbdbd" stroke="#222" stroke-width="0.7"/>
<rect x="438.21" y="466.2" width="6.87" height="81.3" fill="url(#dg)" stroke="#222" stroke-width="0.7"/>
<rect x="445.08" y="488.4" width="6.87" height="59.1" fill="#fff" stroke="#222" stroke-width="0.7"/>
<rect x="451.95" y="456.9" width="6.87" height="90.6" fill="url(#dt)" stroke="#222" stroke-width="0.7"/>
<line x1="74.8" y1="644.7" x2="469.5" y2="644.7" stroke="#333" stroke-width="1.5"/>
<line x1="73.0" y1="644.7" x2="74.8" y2="644.7" stroke="#222" stroke-width="1"/>
<text x="72.4" y="646.7" font-size="5.6" text-anchor="end" font-weight="bold" >0</text>
<line x1="73.0" y1="630.8" x2="74.8" y2="630.8" stroke="#222" stroke-width="1"/>
<text x="72.4" y="632.8" font-size="5.6" text-anchor="end" font-weight="bold" >50</text>
<line x1="73.0" y1="616.8" x2="74.8" y2="616.8" stroke="#222" stroke-width="1"/>
<text x="75.0" y="618.7" font-size="5.2" text-anchor="end" font-weight="bold" >100</text>
<line x1="73.0" y1="602.9" x2="74.8" y2="602.9" stroke="#222" stroke-width="1"/>
<text x="75.0" y="604.8" font-size="5.2" text-anchor="end" font-weight="bold" >150</text>
<line x1="73.0" y1="588.9" x2="74.8" y2="588.9" stroke="#222" stroke-width="1"/>
<text x="75.0" y="590.8" font-size="5.2" text-anchor="end" font-weight="bold" >200</text>
<line x1="73.0" y1="575.0" x2="74.8" y2="575.0" stroke="#222" stroke-width="1"/>
<text x="75.0" y="576.9" font-size="5.2" text-anchor="end" font-weight="bold" >250</text>
<line x1="73.0" y1="561.0" x2="74.8" y2="561.0" stroke="#222" stroke-width="1"/>
<text x="75.0" y="562.9" font-size="5.2" text-anchor="end" font-weight="bold" >300</text>
<text x="77.1" y="559.8" font-size="10.3" font-weight="bold" textLength="45.6" lengthAdjust="spacingAndGlyphs" stroke="#000" stroke-width="0.3" >ZFP36L1</text>
<rect x="86.50" y="643.8" width="6.87" height="0.9" fill="#000" stroke="#222" stroke-width="0.7"/>
<rect x="93.37" y="643.8" width="6.87" height="0.9" fill="url(#hs)" stroke="#222" stroke-width="0.7"/>
<rect x="100.24" y="643.8" width="6.87" height="0.9" fill="#bdbdbd" stroke="#222" stroke-width="0.7"/>
<rect x="107.11" y="643.8" width="6.87" height="0.9" fill="url(#dg)" stroke="#222" stroke-width="0.7"/>
<rect x="113.98" y="643.8" width="6.87" height="0.9" fill="#fff" stroke="#222" stroke-width="0.7"/>
<rect x="120.85" y="643.8" width="6.87" height="0.9" fill="url(#dt)" stroke="#222" stroke-width="0.7"/>
<rect x="153.20" y="626.3" width="6.87" height="18.4" fill="#000" stroke="#222" stroke-width="0.7"/>
<rect x="160.07" y="631.4" width="6.87" height="13.3" fill="url(#hs)" stroke="#222" stroke-width="0.7"/>
<rect x="166.94" y="638.4" width="6.87" height="6.3" fill="#bdbdbd" stroke="#222" stroke-width="0.7"/>
<rect x="173.81" y="636.0" width="6.87" height="8.7" fill="url(#dg)" stroke="#222" stroke-width="0.7"/>
<rect x="180.68" y="633.3" width="6.87" height="11.4" fill="#fff" stroke="#222" stroke-width="0.7"/>
<rect x="187.55" y="626.3" width="6.87" height="18.4" fill="url(#dt)" stroke="#222" stroke-width="0.7"/>
<rect x="220.00" y="598.0" width="6.87" height="46.7" fill="#000" stroke="#222" stroke-width="0.7"/>
<rect x="226.87" y="609.0" width="6.87" height="35.7" fill="url(#hs)" stroke="#222" stroke-width="0.7"/>
<rect x="233.74" y="610.2" width="6.87" height="34.5" fill="#bdbdbd" stroke="#222" stroke-width="0.7"/>
<rect x="240.61" y="610.2" width="6.87" height="34.5" fill="url(#dg)" stroke="#222" stroke-width="0.7"/>
<rect x="247.48" y="547.5" width="6.87" height="97.2" fill="#fff" stroke="#222" stroke-width="0.7"/>
<rect x="254.35" y="553.0" width="6.87" height="91.7" fill="url(#dt)" stroke="#222" stroke-width="0.7"/>
<rect x="286.30" y="579.3" width="6.87" height="65.4" fill="#000" stroke="#222" stroke-width="0.7"/>
<rect x="293.17" y="600.7" width="6.87" height="44.0" fill="url(#hs)" stroke="#222" stroke-width="0.7"/>
<rect x="300.04" y="629.8" width="6.87" height="14.9" fill="#bdbdbd" stroke="#222" stroke-width="0.7"/>
<rect x="306.91" y="625.8" width="6.87" height="18.9" fill="url(#dg)" stroke="#222" stroke-width="0.7"/>
<rect x="313.78" y="584.2" width="6.87" height="60.5" fill="#fff" stroke="#222" stroke-width="0.7"/>
<rect x="320.65" y="550.7" width="6.87" height="94.0" fill="url(#dt)" stroke="#222" stroke-width="0.7"/>
<rect x="352.00" y="641.0" width="6.87" height="3.7" fill="#000" stroke="#222" stroke-width="0.7"/>
<rect x="358.87" y="639.5" width="6.87" height="5.2" fill="url(#hs)" stroke="#222" stroke-width="0.7"/>
<rect x="365.74" y="640.3" width="6.87" height="4.4" fill="#bdbdbd" stroke="#222" stroke-width="0.7"/>
<rect x="372.61" y="642.7" width="6.87" height="2.0" fill="url(#dg)" stroke="#222" stroke-width="0.7"/>
<rect x="379.48" y="637.9" width="6.87" height="6.8" fill="#fff" stroke="#222" stroke-width="0.7"/>
<rect x="386.35" y="633.4" width="6.87" height="11.3" fill="url(#dt)" stroke="#222" stroke-width="0.7"/>
<rect x="417.60" y="634.3" width="6.87" height="10.4" fill="#000" stroke="#222" stroke-width="0.7"/>
<rect x="424.47" y="639.5" width="6.87" height="5.2" fill="url(#hs)" stroke="#222" stroke-width="0.7"/>
<rect x="431.34" y="642.0" width="6.87" height="2.7" fill="#bdbdbd" stroke="#222" stroke-width="0.7"/>
<rect x="438.21" y="639.5" width="6.87" height="5.2" fill="url(#dg)" stroke="#222" stroke-width="0.7"/>
<rect x="445.08" y="633.9" width="6.87" height="10.8" fill="#fff" stroke="#222" stroke-width="0.7"/>
<rect x="451.95" y="632.2" width="6.87" height="12.5" fill="url(#dt)" stroke="#222" stroke-width="0.7"/>
<line x1="74.8" y1="742.6" x2="469.5" y2="742.6" stroke="#333" stroke-width="1.5"/>
<line x1="73.0" y1="742.6" x2="74.8" y2="742.6" stroke="#222" stroke-width="1"/>
<text x="72.4" y="744.6" font-size="5.6" text-anchor="end" font-weight="bold" >0</text>
<line x1="73.0" y1="728.6" x2="74.8" y2="728.6" stroke="#222" stroke-width="1"/>
<text x="72.4" y="730.6" font-size="5.6" text-anchor="end" font-weight="bold" >10</text>
<line x1="73.0" y1="714.6" x2="74.8" y2="714.6" stroke="#222" stroke-width="1"/>
<text x="72.4" y="716.6" font-size="5.6" text-anchor="end" font-weight="bold" >20</text>
<line x1="73.0" y1="700.6" x2="74.8" y2="700.6" stroke="#222" stroke-width="1"/>
<text x="72.4" y="702.6" font-size="5.6" text-anchor="end" font-weight="bold" >30</text>
<line x1="73.0" y1="686.6" x2="74.8" y2="686.6" stroke="#222" stroke-width="1"/>
<text x="72.4" y="688.6" font-size="5.6" text-anchor="end" font-weight="bold" >40</text>
<line x1="73.0" y1="672.6" x2="74.8" y2="672.6" stroke="#222" stroke-width="1"/>
<text x="72.4" y="674.6" font-size="5.6" text-anchor="end" font-weight="bold" >50</text>
<line x1="73.0" y1="658.6" x2="74.8" y2="658.6" stroke="#222" stroke-width="1"/>
<text x="72.4" y="660.6" font-size="5.6" text-anchor="end" font-weight="bold" >60</text>
<text x="79.2" y="658.3" font-size="10.3" font-weight="bold" textLength="42.4" lengthAdjust="spacingAndGlyphs" stroke="#000" stroke-width="0.3" >DUSP10</text>
<rect x="86.50" y="741.0" width="6.87" height="1.6" fill="#000" stroke="#222" stroke-width="0.7"/>
<rect x="93.37" y="741.3" width="6.87" height="1.3" fill="url(#hs)" stroke="#222" stroke-width="0.7"/>
<rect x="100.24" y="741.5" width="6.87" height="1.1" fill="#bdbdbd" stroke="#222" stroke-width="0.7"/>
<rect x="107.11" y="741.3" width="6.87" height="1.3" fill="url(#dg)" stroke="#222" stroke-width="0.7"/>
<rect x="113.98" y="741.5" width="6.87" height="1.1" fill="#fff" stroke="#222" stroke-width="0.7"/>
<rect x="120.85" y="741.5" width="6.87" height="1.1" fill="url(#dt)" stroke="#222" stroke-width="0.7"/>
<rect x="153.20" y="726.0" width="6.87" height="16.6" fill="#000" stroke="#222" stroke-width="0.7"/>
<rect x="160.07" y="729.7" width="6.87" height="12.9" fill="url(#hs)" stroke="#222" stroke-width="0.7"/>
<rect x="166.94" y="734.3" width="6.87" height="8.3" fill="#bdbdbd" stroke="#222" stroke-width="0.7"/>
<rect x="173.81" y="732.0" width="6.87" height="10.6" fill="url(#dg)" stroke="#222" stroke-width="0.7"/>
<rect x="180.68" y="729.7" width="6.87" height="12.9" fill="#fff" stroke="#222" stroke-width="0.7"/>
<rect x="187.55" y="713.8" width="6.87" height="28.8" fill="url(#dt)" stroke="#222" stroke-width="0.7"/>
<rect x="220.00" y="676.8" width="6.87" height="65.8" fill="#000" stroke="#222" stroke-width="0.7"/>
<rect x="226.87" y="694.3" width="6.87" height="48.3" fill="url(#hs)" stroke="#222" stroke-width="0.7"/>
<rect x="233.74" y="684.5" width="6.87" height="58.1" fill="#bdbdbd" stroke="#222" stroke-width="0.7"/>
<rect x="240.61" y="687.5" width="6.87" height="55.1" fill="url(#dg)" stroke="#222" stroke-width="0.7"/>
<rect x="247.48" y="683.3" width="6.87" height="59.3" fill="#fff" stroke="#222" stroke-width="0.7"/>
<rect x="254.35" y="673.0" width="6.87" height="69.6" fill="url(#dt)" stroke="#222" stroke-width="0.7"/>
<rect x="286.30" y="648.5" width="6.87" height="94.1" fill="#000" stroke="#222" stroke-width="0.7"/>
<rect x="293.17" y="696.3" width="6.87" height="46.3" fill="url(#hs)" stroke="#222" stroke-width="0.7"/>
<rect x="300.04" y="685.5" width="6.87" height="57.1" fill="#bdbdbd" stroke="#222" stroke-width="0.7"/>
<rect x="306.91" y="691.3" width="6.87" height="51.3" fill="url(#dg)" stroke="#222" stroke-width="0.7"/>
<rect x="313.78" y="684.0" width="6.87" height="58.6" fill="#fff" stroke="#222" stroke-width="0.7"/>
<rect x="320.65" y="675.5" width="6.87" height="67.1" fill="url(#dt)" stroke="#222" stroke-width="0.7"/>
<rect x="352.00" y="730.0" width="6.87" height="12.6" fill="#000" stroke="#222" stroke-width="0.7"/>
<rect x="358.87" y="722.0" width="6.87" height="20.6" fill="url(#hs)" stroke="#222" stroke-width="0.7"/>
<rect x="365.74" y="731.6" width="6.87" height="11.0" fill="#bdbdbd" stroke="#222" stroke-width="0.7"/>
<rect x="372.61" y="732.2" width="6.87" height="10.4" fill="url(#dg)" stroke="#222" stroke-width="0.7"/>
<rect x="379.48" y="730.5" width="6.87" height="12.1" fill="#fff" stroke="#222" stroke-width="0.7"/>
<rect x="386.35" y="723.0" width="6.87" height="19.6" fill="url(#dt)" stroke="#222" stroke-width="0.7"/>
<rect x="417.60" y="725.7" width="6.87" height="16.9" fill="#000" stroke="#222" stroke-width="0.7"/>
<rect x="424.47" y="731.4" width="6.87" height="11.2" fill="url(#hs)" stroke="#222" stroke-width="0.7"/>
<rect x="431.34" y="735.4" width="6.87" height="7.2" fill="#bdbdbd" stroke="#222" stroke-width="0.7"/>
<rect x="438.21" y="733.2" width="6.87" height="9.4" fill="url(#dg)" stroke="#222" stroke-width="0.7"/>
<rect x="445.08" y="720.3" width="6.87" height="22.3" fill="#fff" stroke="#222" stroke-width="0.7"/>
<rect x="451.95" y="715.7" width="6.87" height="26.9" fill="url(#dt)" stroke="#222" stroke-width="0.7"/>
<text x="97.6" y="753.5" font-size="7.9" font-weight="bold" textLength="16.3" lengthAdjust="spacingAndGlyphs" stroke="#000" stroke-width="0.15" >TAP</text>
<text x="152.4" y="753.5" font-size="7.9" font-weight="bold" textLength="48.3" lengthAdjust="spacingAndGlyphs" stroke="#000" stroke-width="0.15" >HuR(WT)TAP</text>
<text x="216.3" y="753.5" font-size="7.9" font-weight="bold" textLength="55.5" lengthAdjust="spacingAndGlyphs" stroke="#000" stroke-width="0.15" >HuR(S88A)TAP</text>
<text x="280.1" y="753.5" font-size="7.9" font-weight="bold" textLength="59.5" lengthAdjust="spacingAndGlyphs" stroke="#000" stroke-width="0.15" >HuR(S100A)TAP</text>
<text x="348.2" y="753.5" font-size="7.9" font-weight="bold" textLength="59.5" lengthAdjust="spacingAndGlyphs" stroke="#000" stroke-width="0.15" >HuR(T118A)TAP</text>
<text x="413.6" y="753.5" font-size="7.9" font-weight="bold" textLength="59.3" lengthAdjust="spacingAndGlyphs" stroke="#000" stroke-width="0.15" >HuR(S202A)TAP</text>
<rect x="406.2" y="161.2" width="6.4" height="6.3" fill="#000" stroke="#222" stroke-width="0.7"/>
<text x="415.4" y="167.5" font-size="6.6" font-weight="bold" textLength="13.9" lengthAdjust="spacingAndGlyphs" >Ctrl.</text>
<rect x="406.2" y="169.6" width="6.4" height="6.3" fill="url(#hs)" stroke="#222" stroke-width="0.7"/>
<text x="415.4" y="175.9" font-size="6.6" font-weight="bold" textLength="7.0" lengthAdjust="spacingAndGlyphs" >IR</text>
<rect x="406.2" y="177.9" width="6.4" height="6.3" fill="#bdbdbd" stroke="#222" stroke-width="0.7"/>
<text x="415.4" y="184.2" font-size="6.6" font-weight="bold" textLength="48.4" lengthAdjust="spacingAndGlyphs" >ATM inhib. Ctrl.</text>
<rect x="406.2" y="186.2" width="6.4" height="6.3" fill="url(#dg)" stroke="#222" stroke-width="0.7"/>
<text x="415.4" y="192.5" font-size="6.6" font-weight="bold" textLength="42.2" lengthAdjust="spacingAndGlyphs" >ATM inhib. IR</text>
<rect x="406.2" y="194.4" width="6.4" height="6.3" fill="#fff" stroke="#222" stroke-width="0.7"/>
<text x="415.4" y="200.7" font-size="6.6" font-weight="bold" textLength="50.8" lengthAdjust="spacingAndGlyphs" >Chk2 inhib. Ctrl.</text>
<rect x="406.2" y="202.5" width="6.4" height="6.3" fill="url(#dt)" stroke="#222" stroke-width="0.7"/>
<text x="415.4" y="208.8" font-size="6.6" font-weight="bold" textLength="44.2" lengthAdjust="spacingAndGlyphs" >Chk2 inhib. IR</text>
<text transform="translate(59.9,557.6) rotate(-90)" x="0" y="0" font-size="13.4" font-weight="bold" stroke="#000" stroke-width="0.3" textLength="257.2" lengthAdjust="spacingAndGlyphs">Relative fold mRNA abundance in TAP IP</text>
<rect x="277.4" y="159.3" width="59.1" height="297.3" fill="none" stroke="#780c1c" stroke-width="2"/>
<line x1="277.4" y1="258.6" x2="336.5" y2="258.6" stroke="#780c1c" stroke-width="2"/>
<line x1="277.4" y1="357.4" x2="336.5" y2="357.4" stroke="#780c1c" stroke-width="2"/>
<rect x="343.2" y="558" width="59.3" height="198.2" fill="none" stroke="#4a6c4c" stroke-width="1.6"/>
<line x1="343.2" y1="656.6" x2="402.5" y2="656.6" stroke="#4a6c4c" stroke-width="1.6"/>
</svg></body></html>
